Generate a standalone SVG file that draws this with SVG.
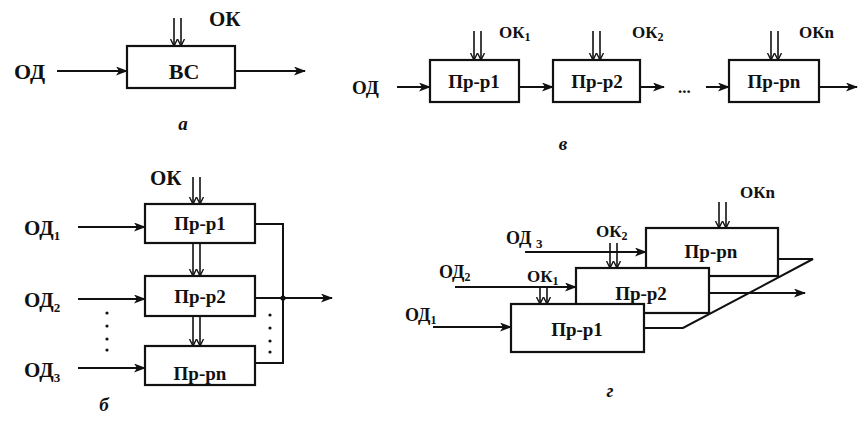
<svg xmlns="http://www.w3.org/2000/svg" width="858" height="433" viewBox="0 0 858 433">
<defs>
<marker id="ah" markerUnits="userSpaceOnUse" markerWidth="12" markerHeight="10" refX="11" refY="4.5" orient="auto">
<path d="M0,0 L12,4.5 L0,9 L3,4.5 z" fill="#111"/>
</marker>
<marker id="dh" markerUnits="userSpaceOnUse" markerWidth="8" markerHeight="8" refX="7" refY="4" orient="auto">
<path d="M0,0.5 L7,4 L0,7.5" fill="none" stroke="#111" stroke-width="1.4"/>
</marker>
</defs>
<style>
.box{fill:#fff;stroke:#111;stroke-width:2.2}
.ln{fill:none;stroke:#111;stroke-width:2}
.ar{fill:none;stroke:#111;stroke-width:2;marker-end:url(#ah)}
.dl{fill:none;stroke:#111;stroke-width:1.6;marker-end:url(#dh)}
text{font-family:"Liberation Serif","Times New Roman",serif;font-weight:bold;fill:#111}
.t{font-size:19px;text-anchor:middle}
.l{font-size:19px}
.big{font-size:22px}
.mid{font-size:21px}
.k{font-size:17px}
.g{font-size:18px}
.s{font-size:13px}
.ss{font-size:12px}
.cap{font-size:19px;font-style:italic;text-anchor:middle}
</style>
<rect width="858" height="433" fill="#fff"/>

<!-- Panel а -->
<g id="a-bc">
<rect class="box" x="127" y="46" width="108" height="42"/>
<text class="t big" x="184" y="79">ВС</text>
</g>
<g id="a-labels">
<text class="big" x="14" y="79">ОД</text>
<text class="mid" x="209" y="26">ОК</text>
<text class="cap" x="183" y="130">а</text>
</g>

<!-- Panel в -->
<g id="v-p1">
<rect class="box" x="430" y="60" width="89" height="42"/>
<text class="t" x="474" y="88">Пр-р1</text>
</g>
<g id="v-p2">
<rect class="box" x="553" y="60" width="87" height="42"/>
<text class="t" x="597" y="88">Пр-р2</text>
</g>
<g id="v-pn">
<rect class="box" x="729" y="60" width="90" height="42"/>
<text class="t" x="774" y="88">Пр-рn</text>
</g>
<g id="v-labels">
<text class="l" x="352" y="94">ОД</text>
<text class="k" x="499" y="38">ОК<tspan class="ss" dy="3">1</tspan></text>
<text class="k" x="632" y="38">ОК<tspan class="ss" dy="3">2</tspan></text>
<text class="k" x="799" y="38">ОКn</text>
<text class="k" x="678" y="93">...</text>
<text class="cap" x="563" y="150">в</text>
</g>

<!-- Panel б -->
<g id="b-p1">
<rect class="box" x="145" y="204" width="110" height="39"/>
<text class="t" x="200" y="230">Пр-р1</text>
</g>
<g id="b-p2">
<rect class="box" x="145" y="276" width="110" height="40"/>
<text class="t" x="200" y="303">Пр-р2</text>
</g>
<g id="b-pn">
<rect class="box" x="145" y="346" width="110" height="39"/>
<text class="t" x="200" y="380">Пр-рn</text>
</g>
<g id="b-labels">
<text class="mid" x="150" y="185">ОК</text>
<text class="mid" x="24" y="235">ОД<tspan class="s" dy="5">1</tspan></text>
<text class="mid" x="24" y="307">ОД<tspan class="s" dy="5">2</tspan></text>
<text class="mid" x="24" y="377">ОД<tspan class="s" dy="5">3</tspan></text>
<text class="cap" x="104" y="411">б</text>
</g>

<!-- Panel г -->
<g id="g-pn">
<rect class="box" x="646" y="228" width="132" height="48"/>
<text class="t" x="711" y="258">Пр-рn</text>
</g>
<g id="g-p2">
<rect class="box" x="576" y="268" width="133" height="45"/>
<text class="t" x="641" y="300">Пр-р2</text>
</g>
<g id="g-p1">
<rect class="box" x="511" y="304" width="133" height="48"/>
<text class="t" x="577" y="336">Пр-р1</text>
</g>
<g id="g-labels">
<text class="g" x="405" y="321">ОД<tspan class="ss" dy="3">1</tspan></text>
<text class="g" x="439" y="278">ОД<tspan class="ss" dy="3">2</tspan></text>
<text class="g" x="506" y="244">ОД <tspan class="s" dy="4">3</tspan></text>
<text class="k" x="527" y="282">ОК<tspan class="ss" dy="3">1</tspan></text>
<text class="k" x="596" y="237">ОК<tspan class="ss" dy="3">2</tspan></text>
<text class="k" x="740" y="198">ОКn</text>
<text class="cap" x="610" y="397">г</text>
</g>

<g id="connectors">
<!-- а -->
<line class="ar" x1="57" y1="71" x2="127" y2="71"/>
<line class="ar" x1="235" y1="71" x2="305" y2="71"/>
<line class="dl" x1="174" y1="18" x2="174" y2="46"/>
<line class="dl" x1="181" y1="18" x2="181" y2="46"/>
<!-- в -->
<line class="ar" x1="397" y1="87" x2="430" y2="87"/>
<line class="ar" x1="519" y1="87" x2="553" y2="87"/>
<line class="ar" x1="640" y1="87" x2="664" y2="87"/>
<line class="ar" x1="706" y1="87" x2="729" y2="87"/>
<line class="ar" x1="819" y1="87" x2="857" y2="87"/>
<line class="dl" x1="474" y1="31" x2="474" y2="60"/>
<line class="dl" x1="481" y1="31" x2="481" y2="60"/>
<line class="dl" x1="593" y1="31" x2="593" y2="60"/>
<line class="dl" x1="600" y1="31" x2="600" y2="60"/>
<line class="dl" x1="771" y1="31" x2="771" y2="60"/>
<line class="dl" x1="778" y1="31" x2="778" y2="60"/>
<!-- б -->
<line class="ar" x1="78" y1="227" x2="145" y2="227"/>
<line class="ar" x1="78" y1="299" x2="145" y2="299"/>
<line class="ar" x1="78" y1="368" x2="145" y2="368"/>
<line class="dl" x1="193" y1="177" x2="193" y2="204"/>
<line class="dl" x1="200" y1="177" x2="200" y2="204"/>
<line class="dl" x1="193" y1="243" x2="193" y2="276"/>
<line class="dl" x1="200" y1="243" x2="200" y2="276"/>
<line class="dl" x1="193" y1="316" x2="193" y2="346"/>
<line class="dl" x1="200" y1="316" x2="200" y2="346"/>
<polyline class="ln" points="255,224 283,224 283,363 255,363"/>
<line class="ln" x1="255" y1="298" x2="283" y2="298"/>
<line class="ar" x1="283" y1="298" x2="332" y2="298"/>
<circle cx="283" cy="298" r="2.6" fill="#111"/>
<g fill="#111">
<circle cx="107" cy="313" r="1.6"/><circle cx="107" cy="326" r="1.6"/><circle cx="107" cy="339" r="1.6"/><circle cx="107" cy="350" r="1.6"/>
<circle cx="270" cy="315" r="1.6"/><circle cx="270" cy="328" r="1.6"/><circle cx="270" cy="341" r="1.6"/><circle cx="270" cy="352" r="1.6"/>
</g>
<!-- г -->
<line class="ar" x1="433" y1="327" x2="511" y2="327"/>
<line class="ar" x1="455" y1="287" x2="576" y2="287"/>
<line class="ar" x1="525" y1="252" x2="646" y2="252"/>
<line class="dl" x1="540" y1="287" x2="540" y2="304"/>
<line class="dl" x1="547" y1="287" x2="547" y2="304"/>
<line class="dl" x1="610" y1="243" x2="610" y2="268"/>
<line class="dl" x1="617" y1="243" x2="617" y2="268"/>
<line class="dl" x1="719" y1="202" x2="719" y2="228"/>
<line class="dl" x1="726" y1="202" x2="726" y2="228"/>
<polyline class="ln" points="644,328 683,328 813,259 778,259"/>
<line class="ar" x1="709" y1="293" x2="805" y2="293"/>
</g>
</svg>
